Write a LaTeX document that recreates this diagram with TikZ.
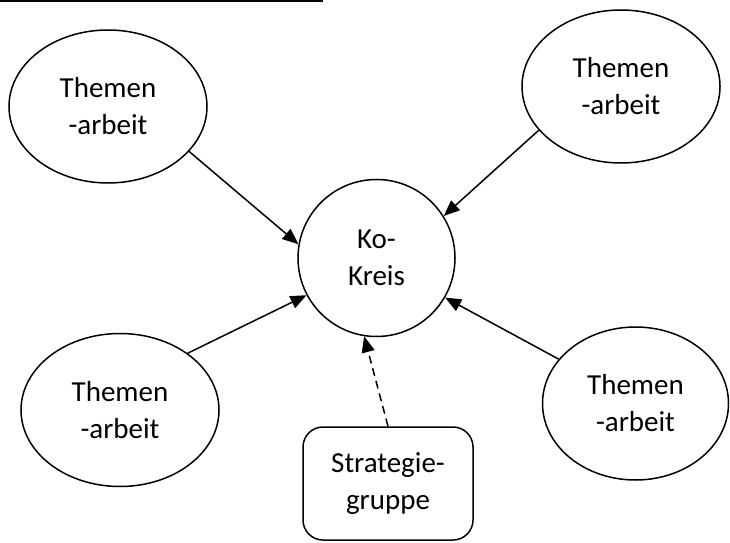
\documentclass[tikz,border=0pt]{standalone}
\usepackage{fontspec}
\setmainfont{Carlito}
\usetikzlibrary{shapes.geometric,arrows.meta}
\begin{document}
\begin{tikzpicture}[x=1bp,y=-1bp,
  oval/.style={draw,line width=1.5bp,ellipse,minimum width=198bp,minimum height=153bp,inner sep=0pt,align=center,font=\fontsize{29bp}{37bp}\selectfont},
  kreis/.style={draw,line width=1.5bp,circle,minimum size=157bp,inner sep=0pt,align=center,font=\fontsize{29bp}{37bp}\selectfont},
  gruppe/.style={draw,line width=1.5bp,rectangle,rounded corners=20bp,minimum width=170bp,minimum height=113bp,inner sep=0pt,align=center,font=\fontsize{29bp}{37bp}\selectfont},
  pfeil/.style={line width=1.5bp,-{Triangle[length=16bp,width=13bp]}},
  strich/.style={pfeil,dash pattern=on 8bp off 5bp}
]
\useasboundingbox (0,0) rectangle (730,543);
\draw[line width=2.5bp] (0,1) -- (323,1);
\node[oval] (tl) at (108,106.5) {Themen\\-arbeit};
\node[oval] (tr) at (621,86.5) {Themen\\-arbeit};
\node[oval] (bl) at (120,410) {Themen\\-arbeit};
\node[oval,minimum width=186bp] (br) at (635.5,403.5) {Themen\\-arbeit};
\node[kreis] (ko) at (376.5,258) {Ko-\\Kreis};
\node[gruppe] (sg) at (388,483.5) {Strategie-\\gruppe};
\draw[pfeil] (tl.-29.3) -- (ko.170.4);
\draw[pfeil] (tr.208.8) -- (ko.32.5);
\draw[pfeil] (bl.40) -- (ko.208.8);
\draw[pfeil] (br.150.7) -- (ko.-30.2);
\draw[strich] (sg.north) -- (ko.-99);
\end{tikzpicture}
\end{document}
